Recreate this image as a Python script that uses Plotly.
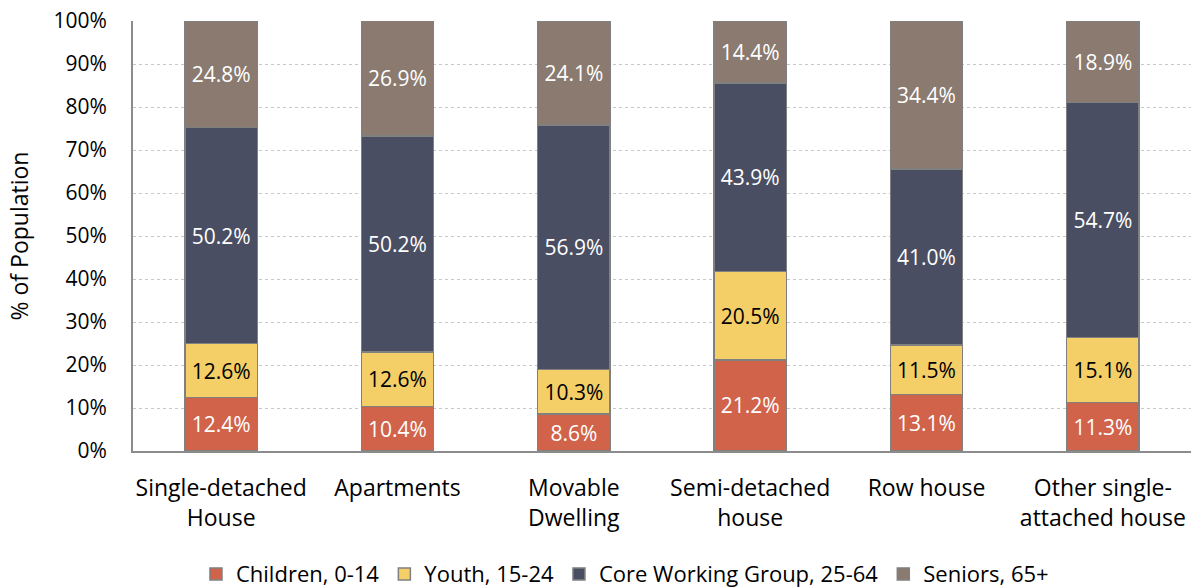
import plotly.graph_objects as go

# dwelling types and age-group shares (% of population)
categories = ['Single-detached<br>House', 'Apartments', 'Movable<br>Dwelling',
              'Semi-detached<br>house', 'Row house', 'Other single-<br>attached house']
children = [12.4, 10.4, 8.6, 21.2, 13.1, 11.3]
youth = [12.6, 12.6, 10.3, 20.5, 11.5, 15.1]
core = [50.2, 50.2, 56.9, 43.9, 41.0, 54.7]
seniors = [24.8, 26.9, 24.1, 14.4, 34.4, 18.9]

series = [
    ('Children, 0-14', children, '#D0634A', 'white'),
    ('Youth, 15-24', youth, '#F4CE67', 'black'),
    ('Core Working Group, 25-64', core, '#4A4E62', 'white'),
    ('Seniors, 65+', seniors, '#8A7A6F', 'white'),
]

FONT = 'Open Sans, Noto Sans, sans-serif'
FS = 21

fig = go.Figure()
for name, vals, color, txtcolor in series:
    fig.add_trace(go.Bar(
        name=name,
        x=categories,
        y=vals,
        marker=dict(color=color, line=dict(color='#808080', width=1.5)),
        text=[f'{v:.1f}%' for v in vals],
        textposition='inside',
        insidetextanchor='middle',
        textfont=dict(color=txtcolor, size=FS, family=FONT),
        constraintext='none',
    ))

fig.update_layout(
    barmode='stack',
    bargap=0.59,
    width=1191, height=587,
    margin=dict(l=133, r=0, t=21, b=136),
    plot_bgcolor='white',
    paper_bgcolor='white',
    font=dict(family=FONT, size=FS, color='black'),
    uniformtext=dict(minsize=FS, mode='show'),
    legend=dict(
        orientation='h', xref='paper', x=0.465, xanchor='center',
        yref='container', y=0.022, yanchor='middle',
        font=dict(size=22), traceorder='normal',
        itemwidth=30,
    ),
    xaxis=dict(
        showline=True, linecolor='#8c8c8c', linewidth=2,
        ticks='', tickfont=dict(size=23), ticklabelstandoff=15,
    ),
    yaxis=dict(
        range=[0, 100], dtick=10, ticksuffix='%',
        showline=True, linecolor='#8c8c8c', linewidth=2,
        showgrid=True, gridcolor='#c8c8c8', griddash='dot', gridwidth=1,
        zeroline=False, ticklabelstandoff=20,
        tickfont=dict(size=FS),
        title=dict(text='% of Population', font=dict(size=23), standoff=18),
    ),
)

fig.write_html('out.html', config={'displayModeBar': False},
               post_script="document.body.style.margin='0';")
